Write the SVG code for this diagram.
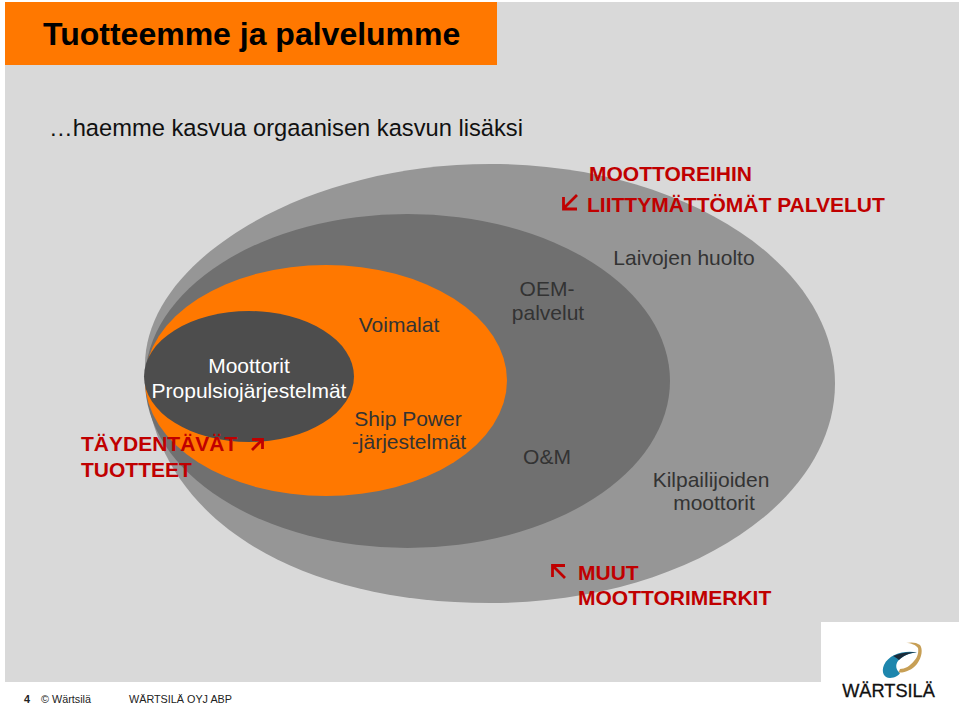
<svg xmlns="http://www.w3.org/2000/svg" width="959" height="705" viewBox="0 0 959 705">
<style>
text{font-family:"Liberation Sans",Arial,sans-serif}
.l{font-size:21px;fill:#333;text-anchor:middle}
.w{font-size:21px;fill:#fff;text-anchor:middle}
.r{font-size:21px;font-weight:bold;fill:#c00000}
.f{font-size:10.8px;fill:#222}
.a{fill:none;stroke:#c00000;stroke-width:2.8}
</style>
<rect width="959" height="705" fill="#fff"/>
<path id="background" d="M5 2H959V622H821V682H5Z" fill="#d9d9d9"/>
<g id="header"><rect x="5" y="2" width="492" height="63" fill="#ff7800"/>
<text x="43" y="45" font-size="32" font-weight="bold" fill="#000">Tuotteemme ja palvelumme</text></g>
<text id="subtitle" x="49" y="136" font-size="23.7" fill="#111">…haemme kasvua orgaanisen kasvun lisäksi</text>
<g id="outer"><path d="M490 164C305 164 145 260 145 365C145 508 283 603 490 603C680.5 603 835 505 835 383.5C835 262 680.5 164 490 164Z" fill="#969696"/></g>
<g id="middle"><ellipse cx="407.5" cy="381" rx="262.5" ry="167" fill="#707070"/></g>
<g id="orange"><ellipse cx="326" cy="380.5" rx="181" ry="115.5" fill="#ff7800"/></g>
<g id="core"><ellipse cx="249" cy="376.5" rx="105" ry="65.5" fill="#4d4d4d"/>
<text class="w" x="249" y="373">Moottorit</text>
<text class="w" x="249" y="398">Propulsiojärjestelmät</text></g>
<g id="labels">
<text class="l" x="399" y="332">Voimalat</text>
<text class="l" x="408" y="426">Ship Power</text>
<text class="l" x="409" y="449">-järjestelmät</text>
<text class="l" x="547" y="296">OEM-</text>
<text class="l" x="548" y="320">palvelut</text>
<text class="l" x="547" y="464">O&amp;M</text>
<text class="l" x="684" y="265">Laivojen huolto</text>
<text class="l" x="711" y="487">Kilpailijoiden</text>
<text class="l" x="714" y="510">moottorit</text>
</g>
<g id="callouts">
<text class="r" x="589" y="181">MOOTTOREIHIN</text>
<text class="r" x="587" y="212">LIITTYMÄTTÖMÄT PALVELUT</text>
<text class="r" x="81" y="451">TÄYDENTÄVÄT</text>
<text class="r" x="81" y="477">TUOTTEET</text>
<text class="r" x="578" y="580">MUUT</text>
<text class="r" x="578" y="605">MOOTTORIMERKIT</text>
<path class="a" d="M577 195L564 208M563.500 197V209H577"/>
<path class="a" d="M252 450L262 440M252 439.500H262.500V449"/>
<path class="a" d="M565 578L553 566M552.500 577V565.500H565"/>
</g>
<g id="logo">
<path d="M917 652.500C905 650 889 654 884 665C881 672 884 678 890 678C895 678 899 675 900 673C896 670 895 665 898 661C902 656 910 653 917 652.500Z" fill="#1e86ad"/>
<path d="M893 656C900 653 908 651.500 917 652.500C908 653 903 656 899 660C897 658 895 657 893 656Z" fill="#1b2a38"/>
<path d="M898.500 672.500C905 673 912 670 917 664C922 657 923 649 920 645C916 642 911 642 906 643C911 643 916 645 918 648C919 653 917 658 914 661C910 666 905 669 900 669Z" fill="#c79f55"/>
<text x="888.500" y="696.500" font-size="18.200" fill="#111" stroke="#111" stroke-width=".3" text-anchor="middle">WÄRTSILÄ</text>
</g>
<g id="footer">
<text x="24" y="702.500" font-size="10.800" font-weight="bold" fill="#222">4</text>
<text class="f" x="41" y="702.500">© Wärtsilä</text>
<text class="f" x="129" y="702.500">WÄRTSILÄ OYJ ABP</text>
</g>
</svg>
